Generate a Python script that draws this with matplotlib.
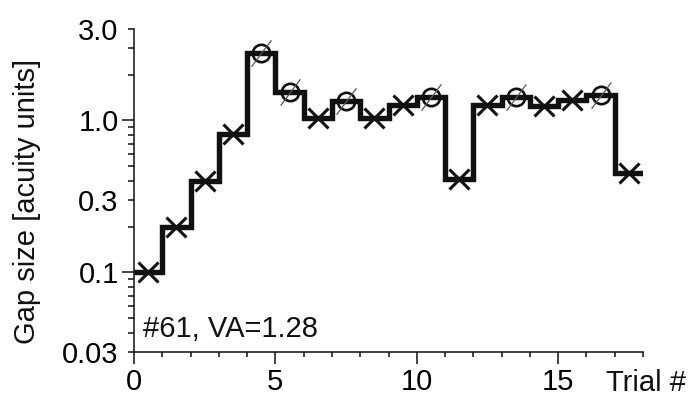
import numpy as np
import matplotlib
matplotlib.use('Agg')
import matplotlib.pyplot as plt
from matplotlib.path import Path

# ---- data ----
trials = np.arange(1, 19)
gap_size = [0.10, 0.20, 0.40, 0.82, 2.78, 1.54, 1.03, 1.35, 1.03,
            1.26, 1.43, 0.41, 1.26, 1.43, 1.25, 1.36, 1.48, 0.45]
response = ['x', 'x', 'x', 'x', 'o', 'o', 'x', 'o', 'x',
            'x', 'o', 'x', 'x', 'o', 'x', 'x', 'o', 'x']

x_major = [0, 5, 10, 15]
x_major_labels = ['0', '5', '10', '15']
x_minor = [1, 2, 3, 4, 6, 7, 8, 9, 11, 12, 13, 14, 16, 17, 18]
y_major = [0.1, 1.0]
y_major_labels = ['0.1', '1.0']
y_minor = [0.03, 0.04, 0.05, 0.06, 0.07, 0.08, 0.09,
           0.2, 0.3, 0.4, 0.5, 0.6, 0.7, 0.8, 0.9, 2.0, 3.0, 4.0]
y_minor_labels = ['0.03', '', '', '', '', '', '',
                  '', '0.3', '', '', '', '', '', '', '', '', '3.0']
y_label = 'Gap size [acuity units]'
x_label = 'Trial #'
annotation = '#61, VA=1.28'

plt.rcParams['font.family'] = ['Liberation Sans', 'DejaVu Sans']
FS = 21

fig = plt.figure(figsize=(6.91, 3.96), dpi=100)
ax = fig.add_axes([134 / 691, 1 - 351.7 / 396, (643 - 134) / 691, (351.7 - 29) / 396])

ink = '#111111'
edges = np.arange(0, len(gap_size) + 1)
ax.stairs(gap_size, edges, baseline=None, color=ink, linewidth=3.9)

xc = trials - 0.5
gs = np.array(gap_size)
resp = np.array(response)
mx = resp == 'x'
mo = resp == 'o'
ax.plot(xc[mx], gs[mx], linestyle='none', marker='x', markersize=14,
        markeredgewidth=2.2, color=ink, zorder=3)
ax.plot(xc[mo], gs[mo], linestyle='none', marker='o', markersize=12.5,
        markeredgewidth=1.9, markerfacecolor='none', markeredgecolor=ink, zorder=3)
slash = Path([(-0.75, -1.0), (0.75, 1.0)], [Path.MOVETO, Path.LINETO])
ax.plot(xc[mo], gs[mo], linestyle='none', marker=slash, markersize=19,
        markeredgewidth=0.9, color='#555555', zorder=4)

ax.set_yscale('log')
ax.set_xlim(0, 18)
ax.set_ylim(0.03, 4.0)

ax.set_xticks(x_major, x_major_labels)
ax.set_xticks(x_minor, minor=True)
ax.set_yticks(y_major, y_major_labels)
ax.set_yticks(y_minor, y_minor_labels, minor=True)

for s in ['top', 'right']:
    ax.spines[s].set_visible(False)
for s in ['left', 'bottom']:
    ax.spines[s].set_linewidth(1.1)
    ax.spines[s].set_color(ink)

ax.tick_params(axis='x', which='major', length=8.4, width=1.1, pad=3.2,
               labelsize=FS, color=ink)
ax.tick_params(axis='x', which='minor', length=3.8, width=1.1, color=ink)
ax.tick_params(axis='y', which='major', length=8.3, width=1.1, pad=2.7,
               labelsize=FS, color=ink)
ax.tick_params(axis='y', which='minor', length=4.3, width=1.1, pad=6.7,
               labelsize=FS, color=ink)

fig.text(686 / 691, 1 - 369 / 396, x_label, ha='right', va='top',
         fontsize=FS, color=ink)
fig.text(13 / 691, 1 - 201.5 / 396, y_label, rotation=90, ha='left',
         va='center', fontsize=FS, color=ink)
ax.text(0.0177, 0.0465, annotation, transform=ax.transAxes, ha='left',
        va='baseline', fontsize=FS, color=ink)

fig.savefig('out.png', dpi=100)
